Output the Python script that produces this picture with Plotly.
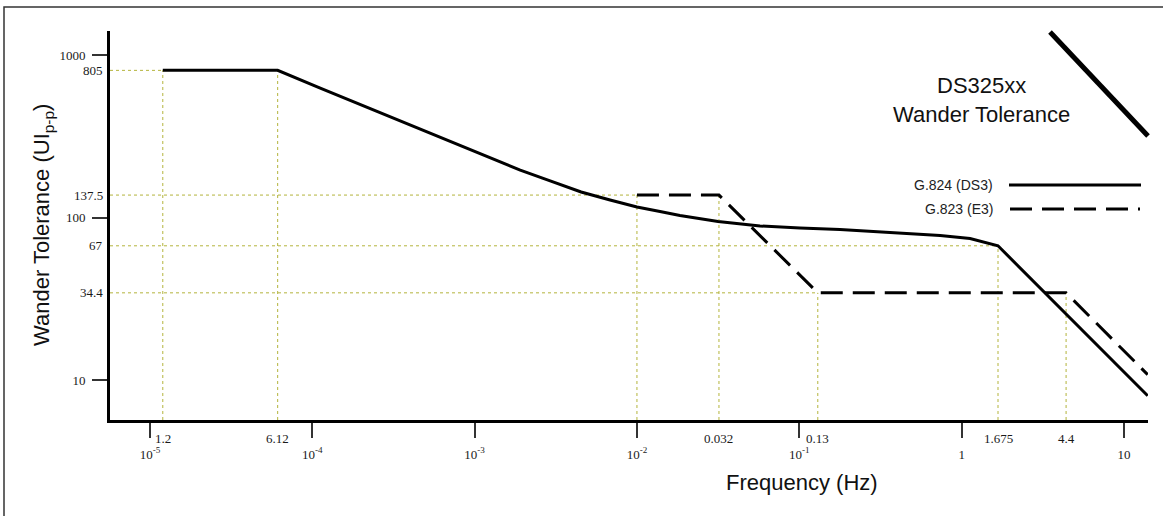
import math
import plotly.graph_objects as go

# ---------------- data ----------------
# G.824 (DS3) wander tolerance mask
ds3_freq = [1.2e-5, 6.12e-5, 1.11e-4, 1.97e-4, 3.47e-4, 6.12e-4, 1.08e-3, 1.91e-3,
            2.92e-3, 4.53e-3, 6.83e-3, 0.01, 0.01387, 0.0184, 0.0316, 0.0431,
            0.0573, 0.101, 0.178, 0.362, 0.737, 1.127, 1.675, 14.0]
ds3_ui = [805, 805, 627, 495, 393, 310, 246, 196,
          168, 143.6, 128.2, 116, 108.9, 102.8, 94.4, 91.2,
          88.7, 86.1, 84.4, 80.9, 77.4, 74.3, 67, 8.0]

# G.823 (E3) wander tolerance mask
e3_freq = [0.01, 0.032, 0.13, 4.4, 14.0]
e3_ui = [137.5, 137.5, 34.4, 34.4, 10.8]

# reference (guide) points: frequency, UI height of vertical guide
guide_freq = [1.2e-5, 6.12e-5, 0.01, 0.032, 0.13, 1.675, 4.4]
guide_freq_top = [805, 805, 137.5, 137.5, 34.4, 67, 34.4]
guide_freq_labels = ["1.2", "6.12", "", "0.032", "0.13", "1.675", "4.4"]

guide_ui = [805, 137.5, 67, 34.4]
guide_ui_right = [1.2e-5, 0.01, 1.675, 0.13]
guide_ui_labels = ["805", "137.5", "67", "34.4"]

x_decades = [1e-5, 1e-4, 1e-3, 1e-2, 1e-1, 1, 10]
x_decade_labels = ["10<sup>-5</sup>", "10<sup>-4</sup>", "10<sup>-3</sup>",
                   "10<sup>-2</sup>", "10<sup>-1</sup>", "1", "10"]
y_decades = [10, 100, 1000]
y_decade_labels = ["10", "100", "1000"]

series_names = ["G.824 (DS3)", "G.823 (E3)"]
chart_title = "DS325xx<br>Wander Tolerance"

# ---------------- layout constants ----------------
W, H = 1163, 516
ML, MR, MT, MB = 110, 15, 31, 96
x_range = [-5.246, 1.148]
y_range = [0.754, 3.148]
xmin, ymin = 10 ** x_range[0], 10 ** y_range[0]
pw, ph = W - ML - MR, H - MT - MB


def px(xp):
    return (xp - ML) / pw


def py(yp):
    return (H - MB - yp) / ph


serif = "Liberation Serif, Times New Roman, serif"
sans = "Liberation Sans, Arial, sans-serif"
guide_color = "#b4b43c"
text_color = "#1a1a1a"

fig = go.Figure()

# guide lines (dotted, olive)
gx, gy = [], []
for f, top in zip(guide_freq, guide_freq_top):
    gx += [f, f, None]
    gy += [ymin, top, None]
for u, right in zip(guide_ui, guide_ui_right):
    gx += [xmin, right, None]
    gy += [u, u, None]
fig.add_trace(go.Scatter(x=gx, y=gy, mode="lines", showlegend=False, hoverinfo="skip",
                         line=dict(color=guide_color, width=1, dash="dot")))

fig.add_trace(go.Scatter(x=ds3_freq, y=ds3_ui, mode="lines", name=series_names[0],
                         showlegend=False, line=dict(color="black", width=3)))
fig.add_trace(go.Scatter(x=e3_freq, y=e3_ui, mode="lines", name=series_names[1],
                         showlegend=False,
                         line=dict(color="black", width=3, dash="22px,10px")))

annotations = []
# special frequency labels
for f, lab in zip(guide_freq, guide_freq_labels):
    if lab:
        annotations.append(dict(x=math.log10(f), xref="x", y=0, yref="paper",
                                xanchor="center", yanchor="top", yshift=-9, text=lab,
                                showarrow=False,
                                font=dict(family=serif, size=13, color=text_color)))
# special UI labels
for u, lab in zip(guide_ui, guide_ui_labels):
    annotations.append(dict(x=0, xref="paper", y=math.log10(u), yref="y",
                            xanchor="right", yanchor="middle", xshift=-5, text=lab,
                            showarrow=False,
                            font=dict(family=serif, size=13, color=text_color)))
# axis titles
annotations.append(dict(x=px(43), y=py(225), xref="paper", yref="paper",
                        xanchor="center", yanchor="middle",
                        text="Wander Tolerance (UI<sub>p-p</sub>)", textangle=-90,
                        showarrow=False, font=dict(family=sans, size=22, color="#111")))
annotations.append(dict(x=px(802), y=py(482), xref="paper", yref="paper",
                        xanchor="center", yanchor="middle", text="Frequency (Hz)",
                        showarrow=False, font=dict(family=sans, size=22, color="#111")))
# title
annotations.append(dict(x=px(981), y=py(100), xref="paper", yref="paper",
                        xanchor="center", yanchor="middle", text=chart_title,
                        showarrow=False, font=dict(family=sans, size=22, color="#111")))
# manual legend texts
for name, ypx in zip(series_names, [185, 209]):
    annotations.append(dict(x=px(995), y=py(ypx), xref="paper", yref="paper",
                            xanchor="right", yanchor="middle", text=name,
                            showarrow=False,
                            font=dict(family=sans, size=14, color="#222")))

shapes = [
    # legend samples
    dict(type="line", xref="paper", yref="paper", x0=px(1009), x1=px(1141),
         y0=py(185), y1=py(185), line=dict(color="black", width=3)),
    dict(type="line", xref="paper", yref="paper", x0=px(1010), x1=px(1140),
         y0=py(209), y1=py(209), line=dict(color="black", width=3, dash="22px,10px")),
    # decorative thick diagonal
    dict(type="line", xref="paper", yref="paper", x0=px(1050), y0=py(32),
         x1=px(1148), y1=py(136), line=dict(color="black", width=5)),
    # outer frame
    dict(type="rect", xref="paper", yref="paper", x0=px(4), y0=py(7),
         x1=px(W + 20), y1=py(H + 20), line=dict(color="#333", width=1.5)),
]

fig.update_layout(
    width=W, height=H,
    margin=dict(l=ML, r=MR, t=MT, b=MB),
    paper_bgcolor="white", plot_bgcolor="white",
    annotations=annotations, shapes=shapes,
    xaxis=dict(type="log", range=x_range, showgrid=False, zeroline=False,
               showline=True, linecolor="black", linewidth=3,
               ticks="outside", ticklen=15, tickwidth=1.5, tickcolor="#333",
               tickvals=x_decades, ticktext=x_decade_labels, ticklabelstandoff=5,
               tickfont=dict(family=serif, size=13, color=text_color)),
    yaxis=dict(type="log", range=y_range, showgrid=False, zeroline=False,
               showline=True, linecolor="black", linewidth=3,
               ticks="outside", ticklen=15, tickwidth=1.5, tickcolor="#333",
               tickvals=y_decades, ticktext=y_decade_labels, ticklabelstandoff=4,
               tickfont=dict(family=serif, size=13, color=text_color)),
    showlegend=False,
)

fig.write_html("out.html",
               config={"displayModeBar": False},
               post_script="document.body.style.margin='0';"
                           "document.body.style.overflow='hidden';")
